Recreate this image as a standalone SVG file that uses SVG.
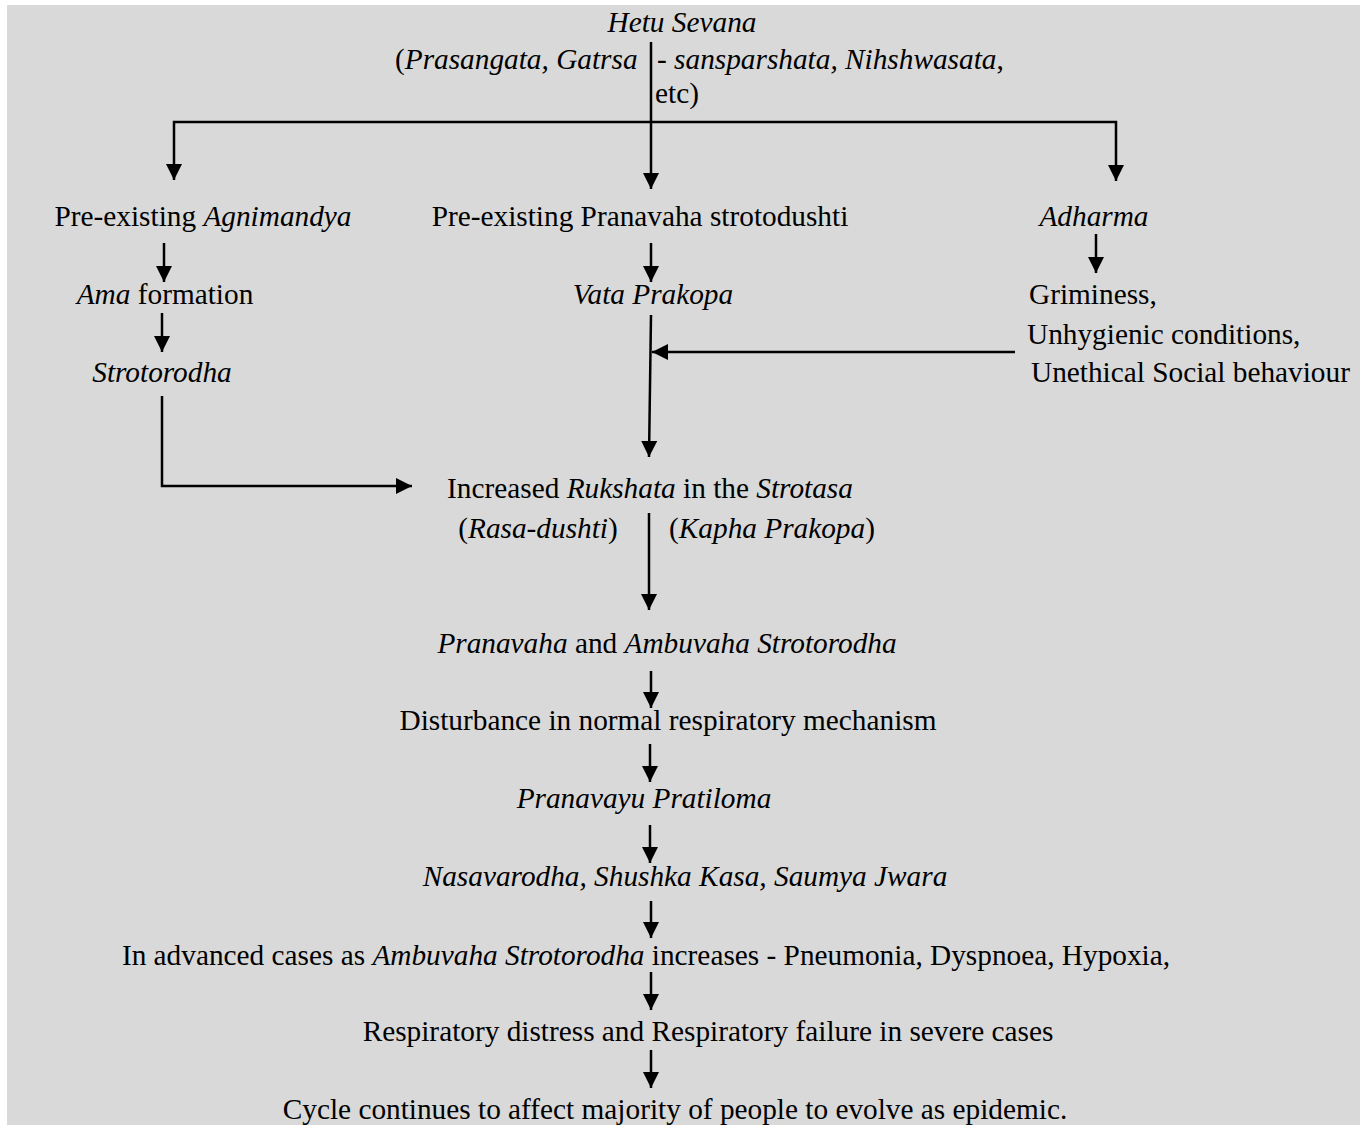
<svg xmlns="http://www.w3.org/2000/svg" width="1360" height="1125" viewBox="0 0 1360 1125">
<defs>
<marker id="ah" markerUnits="userSpaceOnUse" markerWidth="16" markerHeight="16" refX="16" refY="8" orient="auto" viewBox="0 0 16 16">
<path d="M0,0 L16,8 L0,16 z" fill="#000"/>
</marker>
</defs>
<style>
text{font-family:"Liberation Serif","Times New Roman",serif;font-size:29.3px;fill:#000}
.i{font-style:italic}
.c{text-anchor:middle}
.ln{stroke:#000;stroke-width:2.5;fill:none}
.ar{stroke:#000;stroke-width:2.5;fill:none;marker-end:url(#ah)}
</style>
<rect x="7" y="5" width="1353" height="1120" fill="#d9d9d9"/>
<g id="connectors">
<line class="ln" x1="651" y1="42" x2="651" y2="122"/>
<line class="ar" x1="651" y1="122" x2="651" y2="189"/>
<path class="ar" d="M651,122 L174,122 L174,180"/>
<path class="ar" d="M651,122 L1116,122 L1116,181"/>
<line class="ar" x1="164" y1="243" x2="164" y2="282"/>
<line class="ar" x1="162" y1="313" x2="162" y2="352"/>
<path class="ar" d="M162,396 L162,486 L412,486"/>
<line class="ar" x1="651" y1="243" x2="651" y2="282"/>
<line class="ar" x1="651" y1="315" x2="649" y2="457"/>
<line class="ar" x1="1015" y1="352" x2="652" y2="352"/>
<line class="ar" x1="1096" y1="234" x2="1096" y2="273"/>
<line class="ar" x1="649" y1="513" x2="649" y2="610"/>
<line class="ar" x1="651" y1="671" x2="651" y2="708"/>
<line class="ar" x1="650" y1="744" x2="650" y2="782"/>
<line class="ar" x1="650" y1="825" x2="650" y2="863"/>
<line class="ar" x1="651" y1="901" x2="651" y2="938"/>
<line class="ar" x1="651" y1="972" x2="651" y2="1010"/>
<line class="ar" x1="651" y1="1050" x2="651" y2="1088"/>
</g>
<g id="hetu">
<text class="i c" x="682" y="32">Hetu Sevana</text>
<text x="395" y="69">(<tspan class="i">Prasangata, Gatrsa</tspan></text>
<text x="657" y="69">- <tspan class="i">sansparshata, Nihshwasata</tspan>,</text>
<text x="655" y="103">etc)</text>
</g>
<g id="agnimandya"><text class="c" x="203" y="226">Pre-existing <tspan class="i">Agnimandya</tspan></text></g>
<g id="pranavaha-dushti"><text class="c" x="640" y="226">Pre-existing Pranavaha strotodushti</text></g>
<g id="adharma"><text class="i c" x="1094" y="226">Adharma</text></g>
<g id="ama"><text class="c" x="165" y="304"><tspan class="i">Ama</tspan> formation</text></g>
<g id="strotorodha"><text class="i c" x="162" y="382">Strotorodha</text></g>
<g id="vata"><text class="i c" x="653" y="304">Vata Prakopa</text></g>
<g id="griminess">
<text x="1029" y="304">Griminess,</text>
<text x="1027" y="344">Unhygienic conditions,</text>
<text x="1031" y="382">Unethical Social behaviour</text>
</g>
<g id="rukshata">
<text class="c" x="650" y="498">Increased <tspan class="i">Rukshata</tspan> in the <tspan class="i">Strotasa</tspan></text>
<text class="c" x="538" y="538">(<tspan class="i">Rasa-dushti</tspan>)</text>
<text class="c" x="772" y="538">(<tspan class="i">Kapha Prakopa</tspan>)</text>
</g>
<g id="ambuvaha"><text class="c" x="667" y="653"><tspan class="i">Pranavaha</tspan> and <tspan class="i">Ambuvaha Strotorodha</tspan></text></g>
<g id="disturbance"><text class="c" x="668" y="730">Disturbance in normal respiratory mechanism</text></g>
<g id="pratiloma"><text class="i c" x="644" y="808">Pranavayu Pratiloma</text></g>
<g id="symptoms"><text class="i c" x="685" y="886">Nasavarodha, Shushka Kasa, Saumya Jwara</text></g>
<g id="advanced"><text class="c" x="646" y="965">In advanced cases as <tspan class="i">Ambuvaha Strotorodha</tspan> increases - Pneumonia, Dyspnoea, Hypoxia,</text></g>
<g id="failure"><text class="c" x="708" y="1041">Respiratory distress and Respiratory failure in severe cases</text></g>
<g id="cycle"><text class="c" x="675" y="1119">Cycle continues to affect majority of people to evolve as epidemic.</text></g>
</svg>
